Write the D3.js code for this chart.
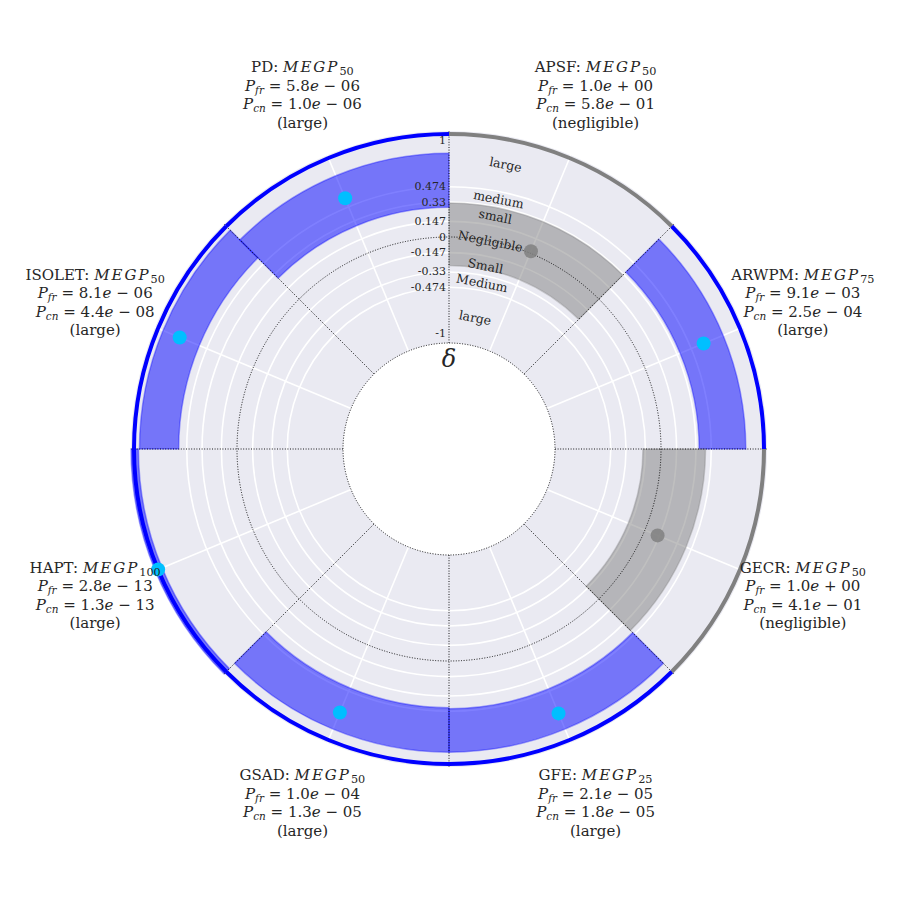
<!DOCTYPE html>
<html><head><meta charset="utf-8">
<script src="https://cdn.jsdelivr.net/npm/d3@7"></script>
<style>body{margin:0;background:#fff}svg{display:block}</style>
</head><body><div id="chart"></div>
<script>
const datasets = ["APSF","ARWPM","GECR","GFE","GSAD","HAPT","ISOLET","PD"];
const megp = ["50","75","50","25","50","100","50","50"];
const pfr = ["1.0e+00","9.1e-03","1.0e+00","2.1e-05","1.0e-04","2.8e-13","8.1e-06","5.8e-06"];
const pcn = ["5.8e-01","2.5e-04","4.1e-01","1.8e-05","1.3e-05","1.3e-13","4.4e-08","1.0e-06"];
const magnitude = ["negligible","large","negligible","large","large","large","large","large"];
const deltaEst = [0.02, 0.60, 0.13, 0.70, 0.69, 0.97, 0.75, 0.56];
const deltaLow = [-0.27, 0.36, -0.17, 0.45, 0.44, 0.93, 0.55, 0.28];
const deltaHigh = [0.32, 0.80, 0.42, 0.86, 0.86, 1.0, 0.92, 0.79];
const tickValues = [1, 0.474, 0.33, 0.147, 0, -0.147, -0.33, -0.474, -1];
const tickLabels = ["1","0.474","0.33","0.147","0","-0.147","-0.33","-0.474","-1"];
const catLabels = ["large","medium","small","Negligible","Small","Medium","large"];
const catPos = [0.737, 0.402, 0.2385, 0, -0.2385, -0.402, -0.737];

const W = 900, H = 900, cx = 449, cy = 449;
const svg = d3.select("#chart").append("svg").attr("width", W).attr("height", H);
const g = svg.append("g").attr("transform", `translate(${cx},${cy})`);
const r = d3.scaleLinear().domain([-1, 1]).range([106, 318]);
const n = datasets.length;
const ang = d3.scaleLinear().domain([0, n]).range([0, 2 * Math.PI]);
const pt = (a, rr) => [rr * Math.sin(a), -rr * Math.cos(a)];
const FONT = "'DejaVu Serif', serif";

// background ring
g.append("path").attr("d", d3.arc()({innerRadius: r(-1), outerRadius: r(1), startAngle: 0, endAngle: 2*Math.PI}))
  .attr("fill", "#EAEAF2");

// white circular gridlines
tickValues.filter(v => v !== 0 && Math.abs(v) !== 1).forEach(v => {
  g.append("circle").attr("r", r(v)).attr("fill", "none").attr("stroke", "#fff").attr("stroke-width", 1.6);
});
// white angular gridlines at sector middles
d3.range(n).forEach(i => {
  const a = ang(i + 0.5);
  const p0 = pt(a, r(-1)), p1 = pt(a, r(1));
  g.append("line").attr("x1", p0[0]).attr("y1", p0[1]).attr("x2", p1[0]).attr("y2", p1[1])
    .attr("stroke", "#fff").attr("stroke-width", 1.6);
});

// bands
const colorOf = m => m === "large" ? "#0000ff" : "#808080";
const dotOf = m => m === "large" ? "#00bfff" : "#808080";
const arc = d3.arc();
d3.range(n).forEach(i => {
  g.append("path").attr("d", arc({innerRadius: r(deltaLow[i]), outerRadius: r(deltaHigh[i]),
      startAngle: ang(i), endAngle: ang(i + 1)}))
    .attr("fill", colorOf(magnitude[i])).attr("fill-opacity", 0.5)
    .attr("stroke", colorOf(magnitude[i])).attr("stroke-opacity", 0.35).attr("stroke-width", 1.5);
});

// dotted circles at 0 and inner edge
[0, -1].forEach(v => {
  g.append("circle").attr("r", r(v)).attr("fill", "none").attr("stroke", "#000")
    .attr("stroke-width", 0.9).attr("stroke-dasharray", "1,1.6");
});
// dotted sector boundaries
d3.range(n).forEach(i => {
  const a = ang(i);
  const p0 = pt(a, r(-1)), p1 = pt(a, r(1));
  g.append("line").attr("x1", p0[0]).attr("y1", p0[1]).attr("x2", p1[0]).attr("y2", p1[1])
    .attr("stroke", "#000").attr("stroke-width", 0.9).attr("stroke-dasharray", "1,1.6");
});

// outer colored rim
d3.range(n).forEach(i => {
  g.append("path").attr("d", d3.arc()({innerRadius: r(1) - 5, outerRadius: r(1) - 1,
      startAngle: ang(i), endAngle: ang(i + 1)}))
    .attr("fill", colorOf(magnitude[i]));
});

// dots
d3.range(n).forEach(i => {
  const p = pt(ang(i + 0.5), r(deltaEst[i]));
  g.append("circle").attr("cx", p[0]).attr("cy", p[1]).attr("r", 7)
    .attr("fill", dotOf(magnitude[i])).attr("fill-opacity", magnitude[i] === "large" ? 1 : 0.85);
});

// tick labels
tickValues.forEach((v, k) => {
  let y = -r(v);
  if (v === 1) y += 9;
  if (v === -1) y -= 10;
  g.append("text").attr("x", -3).attr("y", y).attr("text-anchor", "end")
    .attr("dominant-baseline", "central").attr("font-family", FONT).attr("font-size", 11)
    .attr("fill", "#262626").text(tickLabels[k]);
});

// category labels
const catAng = ang(0.25);
catLabels.forEach((t, k) => {
  const p = pt(catAng, r(catPos[k]));
  g.append("text").attr("transform", `translate(${p[0]},${p[1]}) rotate(${catAng * 180 / Math.PI})`)
    .attr("text-anchor", "middle").attr("dominant-baseline", "central")
    .attr("font-family", FONT).attr("font-size", 12.5).attr("fill", "#262626").text(t);
});

// delta label
g.append("text").attr("x", 0).attr("y", -r(-1) + 16).attr("text-anchor", "middle")
  .attr("dominant-baseline", "central").attr("font-family", FONT).attr("font-style", "italic")
  .attr("font-size", 24).attr("fill", "#262626").text("δ");

// sector labels
function sci(s) {
  const m = s.match(/^([0-9.]+)e([+-])(\d+)$/);
  return {mant: m[1], sign: m[2] === "+" ? "+" : "\u2212", exp: m[3]};
}
const LR = 383, LH = 18.5, FS = 15;
d3.range(n).forEach(i => {
  const p = pt(ang(i + 0.5), LR);
  const t = g.append("text").attr("font-family", FONT).attr("font-size", FS)
    .attr("fill", "#262626").attr("text-anchor", "middle");
  const y0 = p[1] - 1.5 * LH + 5;
  // line 1
  const l1 = t.append("tspan").attr("x", p[0]).attr("y", y0);
  l1.text(datasets[i] + ": ");
  t.append("tspan").attr("font-style", "italic").attr("letter-spacing", 2).text("MEGP");
  t.append("tspan").attr("font-size", FS * 0.75).attr("dy", 3).text(megp[i]);
  // lines 2,3
  [["fr", pfr[i]], ["cn", pcn[i]]].forEach((pair, k) => {
    const s = sci(pair[1]);
    t.append("tspan").attr("x", p[0]).attr("y", y0 + (k + 1) * LH).attr("font-style", "italic").text("P");
    t.append("tspan").attr("font-style", "italic").attr("font-size", FS * 0.7).attr("dy", 3).text(pair[0]);
    t.append("tspan").attr("dy", -3).text(" = " + s.mant);
    t.append("tspan").attr("font-style", "italic").text("e");
    t.append("tspan").text(" " + s.sign + " " + s.exp);
  });
  t.append("tspan").attr("x", p[0]).attr("y", y0 + 3 * LH).text("(" + magnitude[i] + ")");
});
</script></body></html>
